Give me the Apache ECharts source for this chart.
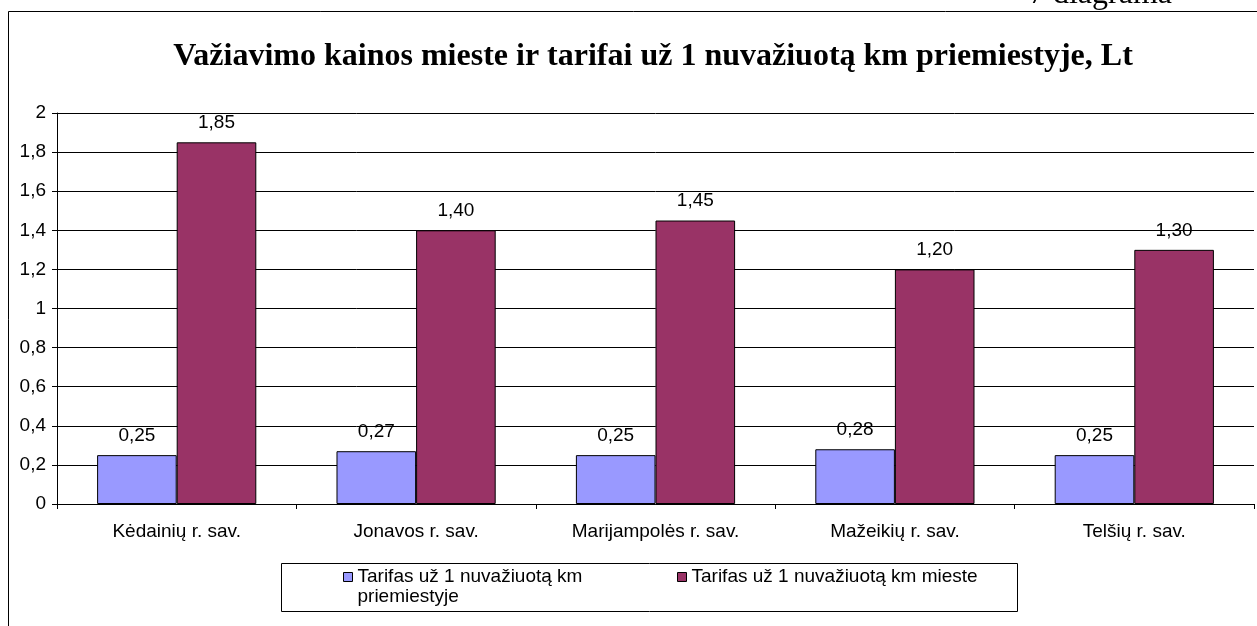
<!DOCTYPE html>
<html>
<head>
<meta charset="utf-8">
<script src="https://cdn.jsdelivr.net/npm/echarts@6/dist/echarts.min.js"></script>
<style>
  html, body { margin: 0; padding: 0; background: #fff; }
  #main { width: 1257px; height: 626px; }
</style>
</head>
<body>
<div id="main"></div>
<script>
const categories = ["Kėdainių r. sav.", "Jonavos r. sav.", "Marijampolės r. sav.", "Mažeikių r. sav.", "Telšių r. sav."];
const suburbTariff = [0.25, 0.27, 0.25, 0.28, 0.25];
const cityFare = [1.85, 1.40, 1.45, 1.20, 1.30];
const seriesNames = ["Tarifas už 1 nuvažiuotą km priemiestyje", "Tarifas už 1 nuvažiuotą km mieste"];

const chart = echarts.init(document.querySelector("#main"));

const comma = (v, d) => v.toFixed(d).replace(".", ",");
const sans = "Liberation Sans, Arial, sans-serif";
const serif = "Liberation Serif, Times New Roman, serif";

const option = {
    animation: false,
    textStyle: { fontFamily: sans },
    title: {
        text: "Važiavimo kainos mieste ir tarifai už 1 nuvažiuotą km priemiestyje, Lt",
        left: 648,
        textAlign: "center",
        top: 36,
        textStyle: { fontFamily: serif, fontWeight: "bold", fontSize: 32, color: "#000" },
    },
    graphic: [
        {
            type: "rect",
            shape: { x: 8.5, y: 11.5, width: 1300, height: 700 },
            style: { fill: "none", stroke: "#000", lineWidth: 1 },
            silent: true,
        },
        {
            type: "text",
            x: 1172,
            y: 11,
            style: { text: "7 diagrama", fontFamily: serif, fontSize: 32, fill: "#000", align: "right", verticalAlign: "bottom" },
            silent: true,
        },
        {
            type: "rect",
            shape: { x: 281.5, y: 563.5, width: 736, height: 48 },
            style: { fill: "#fff", stroke: "#000", lineWidth: 1 },
            silent: true,
            z: -1,
        },
    ],
    legend: [
        {
            data: [seriesNames[0]],
            left: 343,
            top: 547,
            padding: 0,
            itemWidth: 9,
            itemHeight: 9,
            icon: "rect",
            formatter: () => " \nTarifas už 1 nuvažiuotą km\npriemiestyje",
            textStyle: { fontSize: 19, color: "#000", lineHeight: 20 },
            itemStyle: { borderColor: "#000", borderWidth: 1 },
        },
        {
            data: [seriesNames[1]],
            left: 677,
            top: 567,
            padding: 0,
            itemWidth: 9,
            itemHeight: 9,
            icon: "rect",
            textStyle: { fontSize: 19, color: "#000", lineHeight: 20 },
            itemStyle: { borderColor: "#000", borderWidth: 1 },
        },
    ],
    grid: { left: 57, right: 3, top: 113, bottom: 122 },
    xAxis: {
        type: "category",
        data: categories,
        axisLine: { lineStyle: { color: "#000" } },
        axisTick: { show: true, length: 5, alignWithLabel: false, lineStyle: { color: "#000" } },
        axisLabel: { fontSize: 19, color: "#000", margin: 18 },
    },
    yAxis: {
        type: "value",
        min: 0,
        max: 2,
        interval: 0.2,
        axisLine: { show: true, lineStyle: { color: "#000" } },
        axisTick: { show: true, length: 5, lineStyle: { color: "#000" } },
        axisLabel: { fontSize: 19, color: "#000", margin: 11, formatter: (v) => String(Number(v.toFixed(1))).replace(".", ",") },
        splitLine: { lineStyle: { color: "#000", width: 1 } },
    },
    series: [
        {
            name: seriesNames[0],
            type: "bar",
            data: suburbTariff,
            barGap: "0%",
            barCategoryGap: "33.5%",
            itemStyle: { color: "#9999FF", borderColor: "#000", borderWidth: 1 },
            label: { show: true, position: "top", distance: 10, fontSize: 19, color: "#000", formatter: (p) => comma(p.value, 2) },
        },
        {
            name: seriesNames[1],
            type: "bar",
            data: cityFare,
            itemStyle: { color: "#993366", borderColor: "#000", borderWidth: 1 },
            label: { show: true, position: "top", distance: 10, fontSize: 19, color: "#000", formatter: (p) => comma(p.value, 2) },
        },
    ],
};

chart.setOption(option);
</script>
</body>
</html>
